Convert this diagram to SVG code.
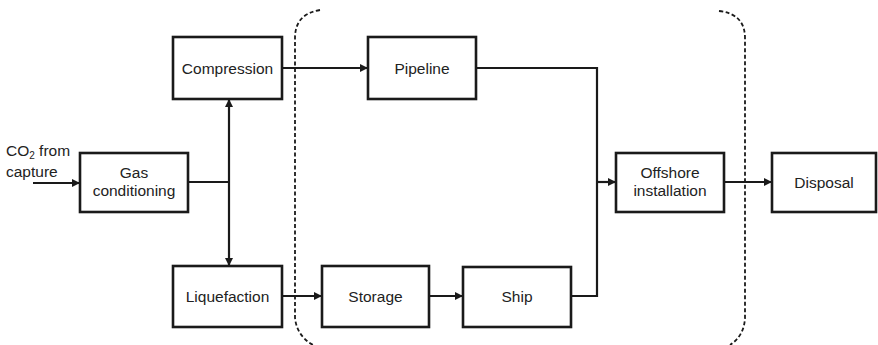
<svg xmlns="http://www.w3.org/2000/svg" width="878" height="345" viewBox="0 0 878 345">
  <style>
    .box rect { fill: #fff; stroke: #1a1a1a; stroke-width: 2.6; }
    .box text, .lbl { font-family: "Liberation Sans", Arial, sans-serif; font-size: 15.5px; fill: #222; text-anchor: middle; }
    .lbl { text-anchor: start; }
    .conn { fill: none; stroke: #1a1a1a; stroke-width: 2.2; }
    .bound { fill: none; stroke: #1a1a1a; stroke-width: 1.8; stroke-dasharray: 4 2.5; }
  </style>
  <defs>
    <marker id="arrow" viewBox="0 0 10 10" refX="10" refY="5" markerWidth="10" markerHeight="8" markerUnits="userSpaceOnUse" orient="auto">
      <path d="M0,0 L10,5 L0,10 z" fill="#1a1a1a"/>
    </marker>
  </defs>

  <rect width="878" height="345" fill="#fff"/>

  <!-- transport system boundary -->
  <g id="boundary">
    <path class="bound" d="M320,10 Q295,14 295,38 L295,318 Q297,336 313,345"/>
    <path class="bound" d="M719,11 Q745,14 745,38 L745,318 Q744,336 730,345"/>
  </g>

  <g id="connectors">
    <path class="conn" d="M33,183 L80,183" marker-end="url(#arrow)"/>
    <path class="conn" d="M188,182 L229,182"/>
    <path class="conn" d="M229,182 L229,99" marker-end="url(#arrow)"/>
    <path class="conn" d="M229,182 L229,266" marker-end="url(#arrow)"/>
    <path class="conn" d="M282,68 L368,68" marker-end="url(#arrow)"/>
    <path class="conn" d="M282,296 L322,296" marker-end="url(#arrow)"/>
    <path class="conn" d="M429,296 L463,296" marker-end="url(#arrow)"/>
    <path class="conn" d="M476,68 L597,68 L597,296 L571,296"/>
    <path class="conn" d="M597,182 L616,182" marker-end="url(#arrow)"/>
    <path class="conn" d="M724,182 L772,182" marker-end="url(#arrow)"/>
  </g>

  <text class="lbl" x="6" y="156">CO<tspan font-size="10" dy="3">2</tspan><tspan dy="-3"> from</tspan></text>
  <text class="lbl" x="6" y="177">capture</text>

  <g id="gas-conditioning" class="box">
    <rect x="80" y="153" width="108" height="59"/>
    <text x="134" y="178">Gas</text>
    <text x="134" y="196">conditioning</text>
  </g>
  <g id="compression" class="box">
    <rect x="173" y="37" width="109" height="62"/>
    <text x="227.5" y="74">Compression</text>
  </g>
  <g id="liquefaction" class="box">
    <rect x="173" y="266" width="109" height="61"/>
    <text x="227.5" y="302">Liquefaction</text>
  </g>
  <g id="pipeline" class="box">
    <rect x="368" y="37" width="108" height="62"/>
    <text x="422" y="74">Pipeline</text>
  </g>
  <g id="storage" class="box">
    <rect x="322" y="266" width="107" height="61"/>
    <text x="375.5" y="302">Storage</text>
  </g>
  <g id="ship" class="box">
    <rect x="463" y="267" width="108" height="60"/>
    <text x="517" y="302">Ship</text>
  </g>
  <g id="offshore-installation" class="box">
    <rect x="616" y="153" width="108" height="59"/>
    <text x="670" y="178">Offshore</text>
    <text x="670" y="196">installation</text>
  </g>
  <g id="disposal" class="box">
    <rect x="772" y="153" width="104" height="59"/>
    <text x="824" y="188">Disposal</text>
  </g>
</svg>
